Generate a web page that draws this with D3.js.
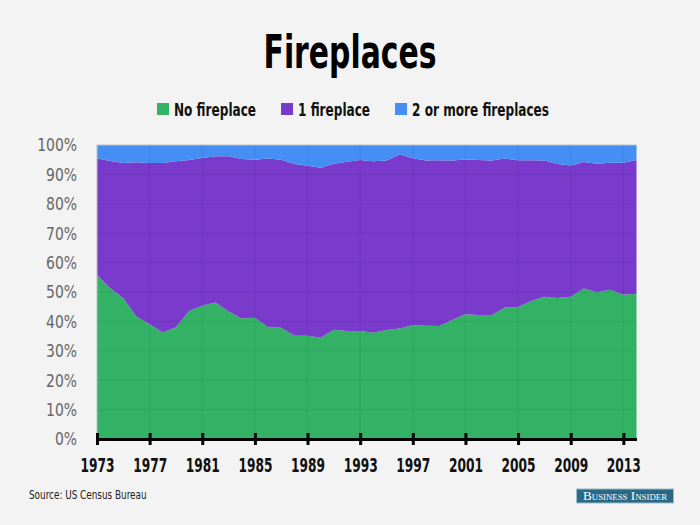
<!DOCTYPE html>
<head>
<meta charset="utf-8">
<script src="https://d3js.org/d3.v7.min.js"></script>
<title>Fireplaces</title>
<style>
  body { margin: 0; background: #f3f3f3; }
  svg { display: block; }
</style>
</head>

<body>
<div id="chart"></div>
<script>
    const years = [1973,1974,1975,1976,1977,1978,1979,1980,1981,1982,1983,1984,1985,1986,1987,1988,1989,1990,1991,1992,1993,
                   1994,1995,1996,1997,1998,1999,2000,2001,2002,2003,2004,2005,2006,2007,2008,2009,2010,2011,2012,2013,2014];
    const noFireplace = [55.8,51.3,47.9,41.6,39.0,36.2,38.0,43.5,45.3,46.4,43.4,41.0,41.2,38.0,37.8,35.1,35.1,34.4,37.2,36.7,36.7,
                         36.1,37.1,37.6,38.7,38.5,38.4,40.5,42.4,42.2,42.2,44.7,44.9,46.9,48.4,48.0,48.4,51.2,49.9,50.8,49.1,49.4];
    const oneFireplace = [39.7,43.3,46.0,52.5,54.9,57.7,56.5,51.4,50.3,49.8,52.8,54.2,53.8,57.4,57.2,58.4,57.8,57.9,56.4,57.6,58.2,
                          58.4,57.6,59.2,56.8,56.2,56.4,54.2,52.7,52.7,52.5,50.7,49.9,47.9,46.3,45.5,44.6,43.0,43.7,43.2,44.9,45.5];
    const twoPlus = [4.5,5.4,6.1,5.9,6.1,6.1,5.5,5.1,4.4,3.8,3.8,4.8,5.0,4.6,5.0,6.5,7.1,7.7,6.4,5.7,5.1,
                     5.5,5.3,3.2,4.5,5.3,5.2,5.3,4.9,5.1,5.3,4.6,5.2,5.2,5.3,6.5,7.0,5.8,6.4,6.0,6.0,5.1];

    const seriesKeys = ['none', 'one', 'two'];
    const seriesNames = ['No fireplace', '1 fireplace', '2 or more fireplaces'];
    const seriesColors = ['#33b266', '#7a3bcd', '#458ef3'];
    const xTicks = [1973,1977,1981,1985,1989,1993,1997,2001,2005,2009,2013];
    const yTicks = [0,10,20,30,40,50,60,70,80,90,100];

    const condensed = '"Liberation Sans Narrow", "DejaVu Sans Condensed", "Roboto Condensed", sans-serif';

    // no narrow font here, so squeeze the text horizontally
    function squeeze(sel, factor) {
        sel.each(function() {
            let w = this.getComputedTextLength();
            d3.select(this)
                .attr('textLength', w * factor)
                .attr('lengthAdjust', 'spacingAndGlyphs');
        });
    }

    let rows = years.map(function(y, i) {
        return { year: y, none: noFireplace[i], one: oneFireplace[i], two: twoPlus[i] };
    });

    let svg = d3.select('#chart').append('svg')
        .attr('width', 700)
        .attr('height', 525)
        .style('background', '#f3f3f3');

    let x = d3.scaleLinear().domain([1973, 2014]).range([97, 636.5]);
    let y = d3.scaleLinear().domain([0, 100]).range([439, 145]);

    // title
    svg.append('text')
        .attr('x', 350)
        .attr('y', 68)
        .attr('text-anchor', 'middle')
        .attr('textLength', 173)
        .attr('lengthAdjust', 'spacingAndGlyphs')
        .style('font-family', condensed)
        .style('font-weight', 'bold')
        .style('font-size', '46px')
        .style('fill', '#000')
        .text('Fireplaces');

    // legend, laid out left to right and centred
    let legend = svg.append('g');
    let lx = 0;
    seriesNames.forEach(function(name, i) {
        let item = legend.append('g').attr('transform', 'translate(' + lx + ',0)');
        item.append('rect')
            .attr('x', 0).attr('y', 103)
            .attr('width', 12).attr('height', 12)
            .attr('fill', seriesColors[i]);
        let t = item.append('text')
            .attr('x', 17).attr('y', 115.5)
            .style('font-family', condensed)
            .style('font-weight', 'bold')
            .style('font-size', '17px')
            .style('fill', '#111')
            .text(name);
        squeeze(t, 0.79);
        lx += 17 + t.node().getComputedTextLength() + 25;
    });
    let legendWidth = lx - 25;
    legend.attr('transform', 'translate(' + (353 - legendWidth / 2) + ',0)');

    // stacked areas
    let stack = d3.stack().keys(seriesKeys);
    let layers = stack(rows);

    let area = d3.area()
        .x(function(d) { return x(d.data.year); })
        .y0(function(d) { return y(d[0]); })
        .y1(function(d) { return y(d[1]); });

    svg.append('g').selectAll('path')
        .data(layers)
        .enter()
        .append('path')
            .attr('d', area)
            .attr('fill', function(d, i) { return seriesColors[i]; });

    // grid over the areas
    let grid = svg.append('g');
    grid.selectAll('.hg')
        .data(yTicks.slice(1, -1))
        .enter()
        .append('line')
            .attr('x1', x(1973)).attr('x2', x(2014))
            .attr('y1', function(d) { return y(d); })
            .attr('y2', function(d) { return y(d); })
            .style('stroke', 'rgba(0,0,0,0.07)')
            .style('stroke-width', 1);
    grid.selectAll('.vg')
        .data(xTicks.slice(1))
        .enter()
        .append('line')
            .attr('x1', function(d) { return x(d); })
            .attr('x2', function(d) { return x(d); })
            .attr('y1', y(100)).attr('y2', y(0))
            .style('stroke', 'rgba(0,0,0,0.07)')
            .style('stroke-width', 1);

    // thin frame at top and left
    svg.append('path')
        .attr('d', 'M' + x(1973) + ',' + y(0) + 'V' + y(100) + 'H' + x(2014))
        .style('fill', 'none')
        .style('stroke', '#bdbdbd')
        .style('stroke-width', 1);

    // y labels
    let ylabels = svg.append('g').selectAll('text')
        .data(yTicks)
        .enter()
        .append('text')
            .attr('x', 77)
            .attr('y', function(d) { return y(d); })
            .attr('dy', '0.36em')
            .attr('text-anchor', 'end')
            .style('font-family', condensed)
            .style('font-size', '18px')
            .style('fill', '#666')
            .text(function(d) { return d + '%'; });
    squeeze(ylabels, 0.86);

    // x axis
    let xaxis = svg.append('g')
        .attr('transform', 'translate(0,' + y(0) + ')')
        .call(d3.axisBottom(x).tickValues(xTicks).tickFormat(d3.format('d')).tickSizeOuter(0).tickSizeInner(6).tickPadding(0));
    xaxis.select('.domain')
        .style('stroke', '#000')
        .style('stroke-width', 3);
    xaxis.selectAll('.tick line')
        .attr('y1', -6)
        .attr('y2', 6)
        .style('stroke', '#000')
        .style('stroke-width', 3);
    xaxis.selectAll('.tick text')
        .attr('y', 33)
        .attr('dy', 0)
        .attr('textLength', 34)
        .attr('lengthAdjust', 'spacingAndGlyphs')
        .style('font-family', condensed)
        .style('font-weight', 'bold')
        .style('font-size', '19px')
        .style('fill', '#111');

    // footer
    let source = svg.append('text')
        .attr('x', 29)
        .attr('y', 499)
        .style('font-family', condensed)
        .style('font-size', '12px')
        .style('fill', '#222')
        .text('Source: US Census Bureau');
    squeeze(source, 0.82);

    let logo = svg.append('g');
    logo.append('rect')
        .attr('x', 576.5).attr('y', 489)
        .attr('width', 97).attr('height', 14)
        .attr('fill', '#2a6986')
        .attr('stroke', '#9dbccb')
        .attr('stroke-width', 1);
    logo.append('text')
        .attr('x', 625).attr('y', 500)
        .attr('text-anchor', 'middle')
        .attr('textLength', 84)
        .attr('lengthAdjust', 'spacingAndGlyphs')
        .style('font-family', '"Liberation Serif", "DejaVu Serif", serif')
        .style('font-variant', 'small-caps')
        .style('font-size', '12px')
        .style('fill', '#fff')
        .text('Business Insider');
</script>
</body>
